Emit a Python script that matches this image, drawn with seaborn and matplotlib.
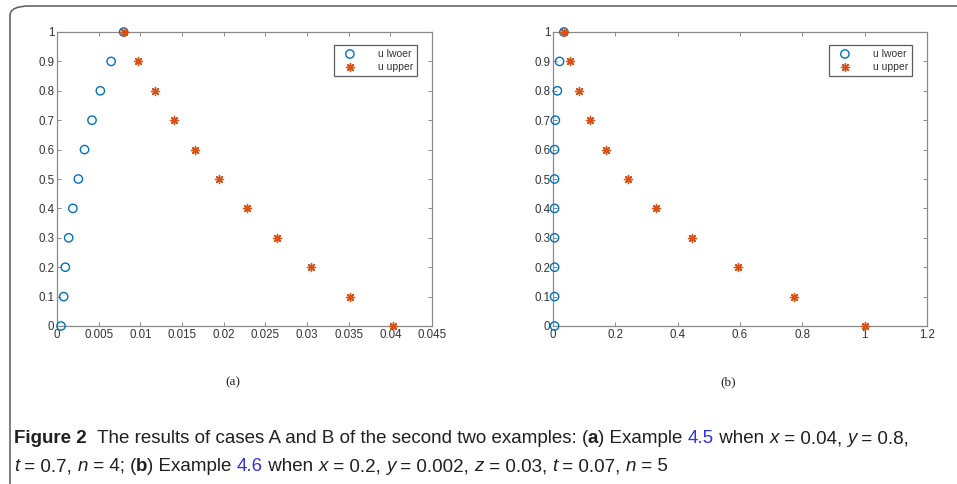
import seaborn as sns
import matplotlib.pyplot as plt
import pandas as pd
from matplotlib.patches import FancyBboxPatch

sns.set_style("white")
plt.rcParams['font.family'] = ['Liberation Sans', 'DejaVu Sans']

# levels (y axis), shared by both panels
u_levels = [0, 0.1, 0.2, 0.3, 0.4, 0.5, 0.6, 0.7, 0.8, 0.9, 1.0]

# panel (a): Example 4.5
a_lower = [0.00048, 0.0008, 0.001, 0.0014, 0.0019, 0.00256, 0.0033, 0.0042, 0.0052, 0.0065, 0.008]
a_upper = [0.0403, 0.0352, 0.0305, 0.0264, 0.0228, 0.0195, 0.0166, 0.014, 0.0117, 0.0097, 0.008]

# panel (b): Example 4.6
b_lower = [0.005, 0.005, 0.005, 0.005, 0.005, 0.005, 0.005, 0.0075, 0.014, 0.021, 0.035]
b_upper = [1.0, 0.774, 0.592, 0.446, 0.331, 0.240, 0.171, 0.118, 0.082, 0.053, 0.035]

blue = "#0072BD"
orange = "#D95319"
box_grey = "#8a8a8a"
tick_grey = "#333333"


def draw_panel(ax, lower, upper, xmax, xstep, xticklabels):
    df_low = pd.DataFrame({"x": lower, "u": u_levels})
    df_up = pd.DataFrame({"x": upper, "u": u_levels})
    sns.scatterplot(data=df_low, x="x", y="u", marker="o", s=36, facecolors="none",
                    edgecolor=blue, linewidth=1.0, label="u lwoer", ax=ax, zorder=3,
                    clip_on=False)
    sns.scatterplot(data=df_up, x="x", y="u", marker=(8, 2, 0), s=34, color=orange,
                    edgecolor=orange, linewidth=1.0, label="u upper", ax=ax, zorder=3,
                    clip_on=False)
    ax.set_xlim(0, xmax)
    ax.set_ylim(0, 1)
    ax.set_xlabel("")
    ax.set_ylabel("")
    xt = [i * xstep for i in range(len(xticklabels))]
    ax.set_xticks(xt)
    ax.set_xticklabels(xticklabels)
    ax.set_yticks(u_levels)
    ax.set_yticklabels(["0", "0.1", "0.2", "0.3", "0.4", "0.5", "0.6", "0.7", "0.8", "0.9", "1"])
    ax.tick_params(direction="in", length=3, width=0.7, color=box_grey, labelsize=8.3,
                   labelcolor=tick_grey, top=True, right=True, bottom=True, left=True, pad=2)
    for sp in ax.spines.values():
        sp.set_visible(True)
        sp.set_color(box_grey)
        sp.set_linewidth(0.9)
    leg = ax.legend(loc="upper right", bbox_to_anchor=(0.975, 0.975), fontsize=7.5,
                    frameon=True, fancybox=False, borderpad=0.4, handletextpad=1.6,
                    labelspacing=0.3, handlelength=2.2)
    leg.get_frame().set_edgecolor("#333333")
    leg.get_frame().set_linewidth(0.9)
    for t in leg.get_texts():
        t.set_color(tick_grey)


fig = plt.figure(figsize=(9.57, 4.84), dpi=100)

# card border (cropped rounded box)
fig.patches.append(FancyBboxPatch((10 / 957, -0.2), 1.2, 1.2 - 6 / 484 + 0.0,
                                  boxstyle="round,pad=0,rounding_size=0.02",
                                  transform=fig.transFigure, fill=False,
                                  edgecolor="#666666", linewidth=1.2))

ax1 = fig.add_axes([57 / 957, 1 - 326 / 484, 375 / 957, 294 / 484])
ax2 = fig.add_axes([553 / 957, 1 - 326 / 484, 374 / 957, 294 / 484])

draw_panel(ax1, a_lower, a_upper, 0.045, 0.005,
           ["0", "0.005", "0.01", "0.015", "0.02", "0.025", "0.03", "0.035", "0.04", "0.045"])
draw_panel(ax2, b_lower, b_upper, 1.2, 0.2,
           ["0", "0.2", "0.4", "0.6", "0.8", "1", "1.2"])

fig.text(233 / 957, 1 - 382 / 484, "(a)", family="Liberation Serif", fontsize=9.5,
         ha="center", va="center", color="#222222")
fig.text(728 / 957, 1 - 382 / 484, "(b)", family="Liberation Serif", fontsize=9.5,
         ha="center", va="center", color="#222222")

# caption built from styled pieces
cap_font = ["Liberation Sans Narrow", "Liberation Sans", "DejaVu Sans"]
link = "#3333dd"
ink = "#231f20"
line1 = [("Figure 2", "bold", "normal", ink),
         ("  The results of cases A and B of the second two examples: (", "normal", "normal", ink),
         ("a", "bold", "normal", ink),
         (") Example ", "normal", "normal", ink),
         ("4.5", "normal", "normal", link),
         (" when ", "normal", "normal", ink),
         ("x", "normal", "italic", ink),
         (" = 0.04, ", "normal", "normal", ink),
         ("y", "normal", "italic", ink),
         (" = 0.8,", "normal", "normal", ink)]
line2 = [("t", "normal", "italic", ink),
         (" = 0.7, ", "normal", "normal", ink),
         ("n", "normal", "italic", ink),
         (" = 4; (", "normal", "normal", ink),
         ("b", "bold", "normal", ink),
         (") Example ", "normal", "normal", ink),
         ("4.6", "normal", "normal", link),
         (" when ", "normal", "normal", ink),
         ("x", "normal", "italic", ink),
         (" = 0.2, ", "normal", "normal", ink),
         ("y", "normal", "italic", ink),
         (" = 0.002, ", "normal", "normal", ink),
         ("z", "normal", "italic", ink),
         (" = 0.03, ", "normal", "normal", ink),
         ("t", "normal", "italic", ink),
         (" = 0.07, ", "normal", "normal", ink),
         ("n", "normal", "italic", ink),
         (" = 5", "normal", "normal", ink)]

renderer = fig.canvas.get_renderer()
for pieces, base in [(line1, 443), (line2, 471)]:
    x = 14
    for txt, weight, style, col in pieces:
        t = fig.text(x / 957, 1 - base / 484, txt, family=cap_font, fontsize=13.5,
                     weight=weight, style=style, color=col, ha="left", va="baseline")
        bb = t.get_window_extent(renderer=renderer)
        x = bb.x1

plt.savefig("out.png", dpi=100)
